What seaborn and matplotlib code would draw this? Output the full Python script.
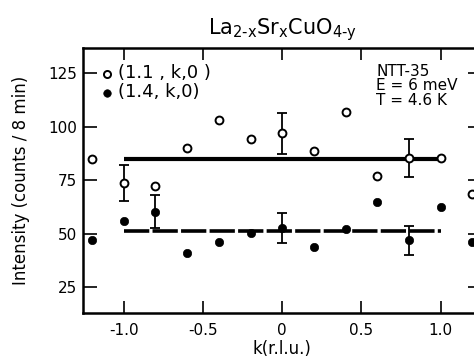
import numpy as np
import pandas as pd
import matplotlib
matplotlib.use("Agg")
import matplotlib.pyplot as plt
import seaborn as sns

# Data
k_vals = [-1.2, -1.0, -0.8, -0.6, -0.4, -0.2, 0.0, 0.2, 0.4, 0.6, 0.8, 1.0, 1.2]
open_I = [85, 73.7, 72.3, 90, 103, 94.2, 96.9, 88.8, 106.8, 77, 85.4, 85.4, 68.4]
filled_I = [47.1, 56.1, 60.3, 41.2, 46.2, 50.5, 52.8, 44, 52.2, 64.8, 47, 62.6, 46.3]

open_err_k = [-1.0, 0.0, 0.8]
open_err_I = [73.7, 96.9, 85.4]
open_err = [8.5, 9.7, 9.0]
filled_err_k = [-0.8, 0.0, 0.8]
filled_err_I = [60.3, 52.8, 47.0]
filled_err = [7.7, 7.0, 6.7]

open_mean = 85.0
filled_mean = 51.5
mean_k = [-1.0, 1.0]

series_labels = ["(1.1 , k,0 )", "(1.4, k,0)"]
xticks = [-1.0, -0.5, 0.0, 0.5, 1.0]
xticklabels = ["-1.0", "-0.5", "0", "0.5", "1.0"]
yticks = [25, 50, 75, 100, 125]

sns.set_style("ticks")
plt.rcParams['font.family'] = ['DejaVu Sans']
plt.rcParams['mathtext.default'] = 'regular'
plt.rcParams['text.color'] = 'black'
plt.rcParams['axes.labelcolor'] = 'black'
plt.rcParams['xtick.color'] = 'black'
plt.rcParams['ytick.color'] = 'black'
plt.rcParams['axes.edgecolor'] = 'black'

fig = plt.figure(figsize=(4.74, 3.6), dpi=100)
ax = fig.add_axes([0.175, 0.1306, 0.8413, 0.7361])

df = pd.DataFrame({"k": k_vals * 2,
                   "I": open_I + filled_I,
                   "s": [series_labels[0]] * len(k_vals) + [series_labels[1]] * len(k_vals)})

# mean lines
ax.plot(mean_k, [open_mean, open_mean], color="black", lw=3.0, solid_capstyle="butt", zorder=2)
ax.plot(mean_k, [filled_mean, filled_mean], color="black", lw=2.6, dashes=(7, 0.9), zorder=2)

# error bars
ax.errorbar(open_err_k, open_err_I, yerr=open_err, fmt="none", ecolor="black",
            elinewidth=1.3, capsize=3.5, capthick=1.3, zorder=3)
ax.errorbar(filled_err_k, filled_err_I, yerr=filled_err, fmt="none", ecolor="black",
            elinewidth=1.3, capsize=3.5, capthick=1.3, zorder=3)

sub_o = df[df["s"] == series_labels[0]]
sub_f = df[df["s"] == series_labels[1]]
sns.scatterplot(data=sub_o, x="k", y="I", ax=ax, marker="o", s=32,
                facecolor="white", edgecolor="black", linewidth=1.4, zorder=4,
                label=series_labels[0])
sns.scatterplot(data=sub_f, x="k", y="I", ax=ax, marker="o", s=36,
                color="black", edgecolor="black", linewidth=0.5, zorder=4,
                label=series_labels[1])

ax.set_xlim(-1.258, 1.26)
ax.set_ylim(13.1, 136.7)
ax.set_xticks(xticks)
ax.set_xticklabels(xticklabels)
ax.set_yticks(yticks)

for sp in ax.spines.values():
    sp.set_linewidth(1.8)
    sp.set_color("black")
    sp.set_visible(True)

ax.tick_params(axis="x", direction="in", length=8.6, width=1.2, top=True, bottom=True,
               labelsize=11, pad=7, colors="black")
ax.tick_params(axis="y", direction="in", length=10, width=1.2, left=True, right=True,
               labelsize=11, pad=4, colors="black")

ax.set_xlabel("k(r.l.u.)", fontsize=12, labelpad=2)
ax.set_ylabel("Intensity (counts / 8 min)", fontsize=12, labelpad=13)

ax.set_title(r"La$_{2\text{-}x}$Sr$_x$CuO$_{4\text{-}y}$", fontsize=15, pad=10)

leg = ax.legend(loc="upper left", bbox_to_anchor=(0.02, 0.965), frameon=False,
                fontsize=13, handletextpad=0.1, borderaxespad=0, labelspacing=0.05,
                handlelength=1.0, markerscale=0.9)

ax.text(0.735, 0.94, "NTT-35\nE = 6 meV\nT = 4.6 K", transform=ax.transAxes,
        fontsize=11, va="top", ha="left", linespacing=0.95)

fig.savefig("out.png", dpi=100)
